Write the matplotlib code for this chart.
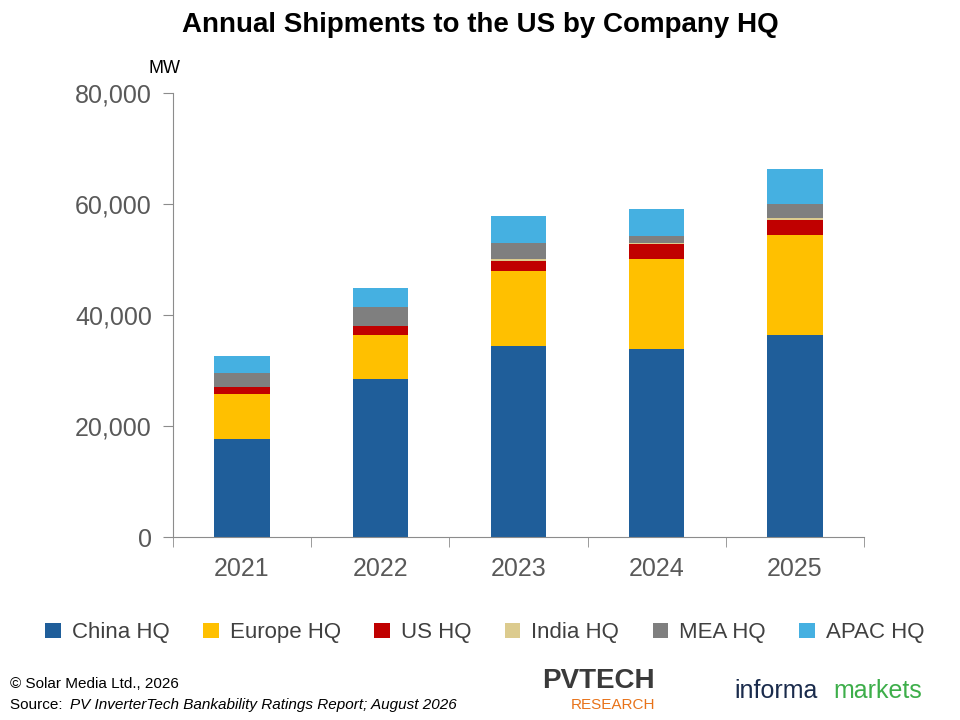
import matplotlib
matplotlib.use("Agg")
import matplotlib.pyplot as plt
import numpy as np

plt.rcParams["font.family"] = ["Liberation Sans", "DejaVu Sans"]

years = ["2021", "2022", "2023", "2024", "2025"]
series_names = ["China HQ", "Europe HQ", "US HQ", "India HQ", "MEA HQ", "APAC HQ"]
china = [17700, 28500, 34400, 33900, 36400]
europe = [8100, 7900, 13500, 16200, 18000]
us = [1200, 1600, 1800, 2700, 2700]
india = [100, 100, 400, 200, 400]
mea = [2400, 3300, 2900, 1200, 2500]
apac = [3100, 3500, 4800, 4900, 6300]
colors = ["#1F5E9A", "#FFC000", "#C00000", "#DCCB8E", "#7F7F7F", "#45B0E1"]

fig = plt.figure(figsize=(9.6, 7.2), dpi=100)
ax = fig.add_axes([0.18, 0.254, 0.72, 0.617])
x = np.arange(len(years))
bottom = np.zeros(len(years))
for name, vals, c in zip(series_names, [china, europe, us, india, mea, apac], colors):
    ax.bar(x, vals, 0.4, bottom=bottom, color=c, label=name)
    bottom += np.array(vals)

ax.set_ylim(0, 80000)
ax.set_xlim(-0.5, 4.5)
ax.set_yticks(range(0, 80001, 20000))
ax.set_yticklabels([f"{v:,}" for v in range(0, 80001, 20000)], fontsize=18, color="#595959")
ax.set_xticks(x)
ax.set_xticklabels(years, fontsize=18, color="#595959")
ax.tick_params(axis="x", length=0, pad=14)
ax.set_xticks(np.arange(-0.5, 5, 1), minor=True)
ax.tick_params(axis="x", which="minor", length=7, color="#8c8c8c")
ax.tick_params(axis="y", length=7, color="#8c8c8c", direction="out", pad=8)
for s in ["top", "right"]:
    ax.spines[s].set_visible(False)
for s in ["left", "bottom"]:
    ax.spines[s].set_color("#8c8c8c")

fig.text(0.5, 0.965, "Annual Shipments to the US by Company HQ", ha="center", va="center",
         fontsize=20, fontweight="bold")
fig.text(0.155, 0.905, "MW", fontsize=13, va="center")
ax.legend(loc="center", bbox_to_anchor=(0.505, 0.121), bbox_transform=fig.transFigure,
          ncol=6, frameon=False, fontsize=16, handlelength=0.7, handleheight=0.7,
          columnspacing=1.5, handletextpad=0.5, labelcolor="#404040")

fig.text(0.01, 0.045, "© Solar Media Ltd., 2026", fontsize=11)
fig.text(0.01, 0.015, "Source: ", fontsize=11)
fig.text(0.073, 0.015, "PV InverterTech Bankability Ratings Report; August 2026", fontsize=11, style="italic")
fig.text(0.565, 0.045, "PVTECH", fontsize=20, fontweight="bold", color="#3a3a3a")
fig.text(0.595, 0.015, "RESEARCH", fontsize=11, color="#E8731A")
fig.text(0.765, 0.03, "informa", fontsize=18, color="#1A2B4C")
fig.text(0.868, 0.03, "markets", fontsize=18, color="#3DAE4A")
fig.savefig("out.png", dpi=100)
